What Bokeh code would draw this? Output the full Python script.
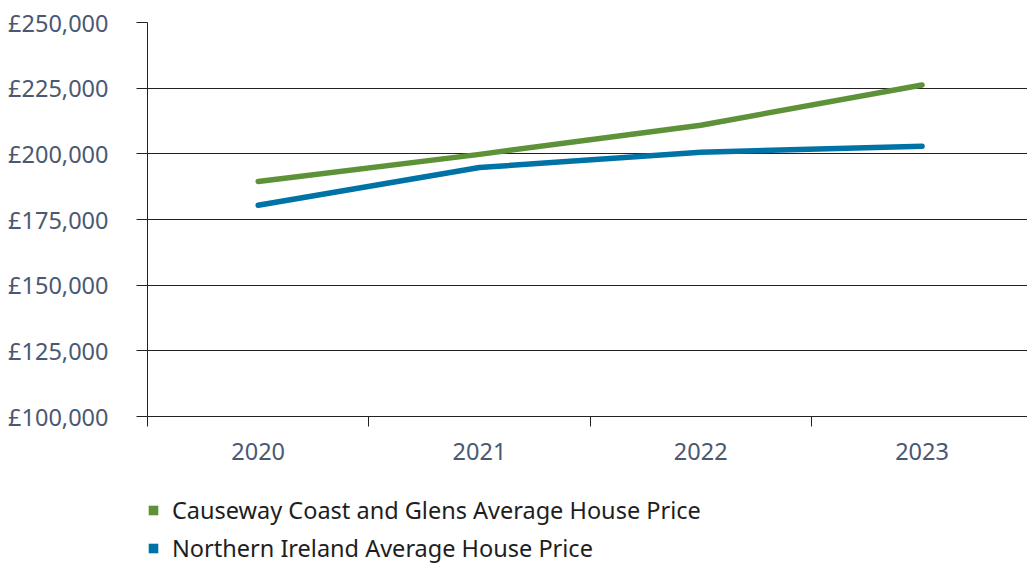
import math
from bokeh.plotting import figure
from bokeh.layouts import column
from bokeh.models import Range1d, FixedTicker, Legend, LegendItem
from bokeh.embed import file_html
from bokeh.resources import INLINE

years = ["2020", "2021", "2022", "2023"]
ccg_prices = [189500, 199800, 210900, 226200]
ni_prices = [180400, 194800, 200600, 202900]
y_ticks = [100000, 125000, 150000, 175000, 200000, 225000, 250000]
series_names = ["Causeway Coast and Glens Average House Price",
                "Northern Ireland Average House Price"]

GREEN = "#5e9238"
BLUE = "#0073a6"
LABEL = "#4b5872"
GRID = "#222222"
FONT = "Noto Sans"
FS = "23.5px"

xs = [i + 0.5 for i in range(len(years))]

p = figure(width=1027, height=475, output_backend="svg", toolbar_location=None,
           x_range=Range1d(0, 880 / 221.3), y_range=Range1d(y_ticks[0], y_ticks[-1]),
           min_border_left=147, min_border_right=0, min_border_top=22,
           min_border_bottom=59)
p.outline_line_color = None
p.background_fill_color = "white"

# y axis
p.yaxis.ticker = FixedTicker(ticks=y_ticks)
p.yaxis.major_label_overrides = {v: "£{:,}".format(v) for v in y_ticks}
p.yaxis.axis_line_color = GRID
p.yaxis.major_tick_line_color = GRID
p.yaxis.major_tick_in = 0
p.yaxis.major_tick_out = 11
p.yaxis.minor_tick_line_color = None
p.yaxis.major_label_standoff = 28
p.yaxis.major_label_text_font = FONT
p.yaxis.major_label_text_font_size = FS
p.yaxis.major_label_text_color = LABEL

# x axis: labels at centres, ticks at category boundaries
p.xaxis.ticker = FixedTicker(ticks=xs, minor_ticks=list(range(len(years) + 1)))
p.xaxis.major_label_overrides = {x: y for x, y in zip(xs, years)}
p.xaxis.axis_line_color = GRID
p.xaxis.major_tick_line_color = None
p.xaxis.minor_tick_line_color = GRID
p.xaxis.minor_tick_in = 0
p.xaxis.minor_tick_out = 10
p.xaxis.major_label_standoff = 16
p.xaxis.major_label_text_font = FONT
p.xaxis.major_label_text_font_size = FS
p.xaxis.major_label_text_color = LABEL

p.xgrid.grid_line_color = None
p.ygrid.ticker = FixedTicker(ticks=y_ticks)
p.ygrid.grid_line_color = GRID
p.ygrid.grid_line_width = 1

p.line(xs, ccg_prices, line_color=GREEN, line_width=5.5, line_cap="round", line_join="round")
p.line(xs, ni_prices, line_color=BLUE, line_width=5.5, line_cap="round", line_join="round")

# legend figure below
lg = figure(width=1027, height=88, output_backend="svg", toolbar_location=None,
            x_range=Range1d(0, 1), y_range=Range1d(0, 1),
            min_border_left=147, min_border_right=0, min_border_top=19,
            min_border_bottom=0)
lg.axis.visible = False
lg.grid.grid_line_color = None
lg.outline_line_color = None

g1 = lg.quad(left=[math.nan], right=[math.nan], top=[math.nan], bottom=[math.nan],
             fill_color=GREEN, line_color=None)
g2 = lg.quad(left=[math.nan], right=[math.nan], top=[math.nan], bottom=[math.nan],
             fill_color=BLUE, line_color=None)

legend = Legend(items=[LegendItem(label=series_names[0], renderers=[g1]),
                       LegendItem(label=series_names[1], renderers=[g2])],
                location="top_left", orientation="vertical",
                label_text_font=FONT, label_text_font_size=FS,
                label_text_color="#1e1e1e",
                glyph_width=12, glyph_height=12, label_standoff=13,
                spacing=6, padding=0, margin=0,
                border_line_color=None, background_fill_alpha=0)
lg.add_layout(legend, "center")

layout = column(p, lg, spacing=0)
open("out.html", "w").write(file_html(layout, INLINE))
